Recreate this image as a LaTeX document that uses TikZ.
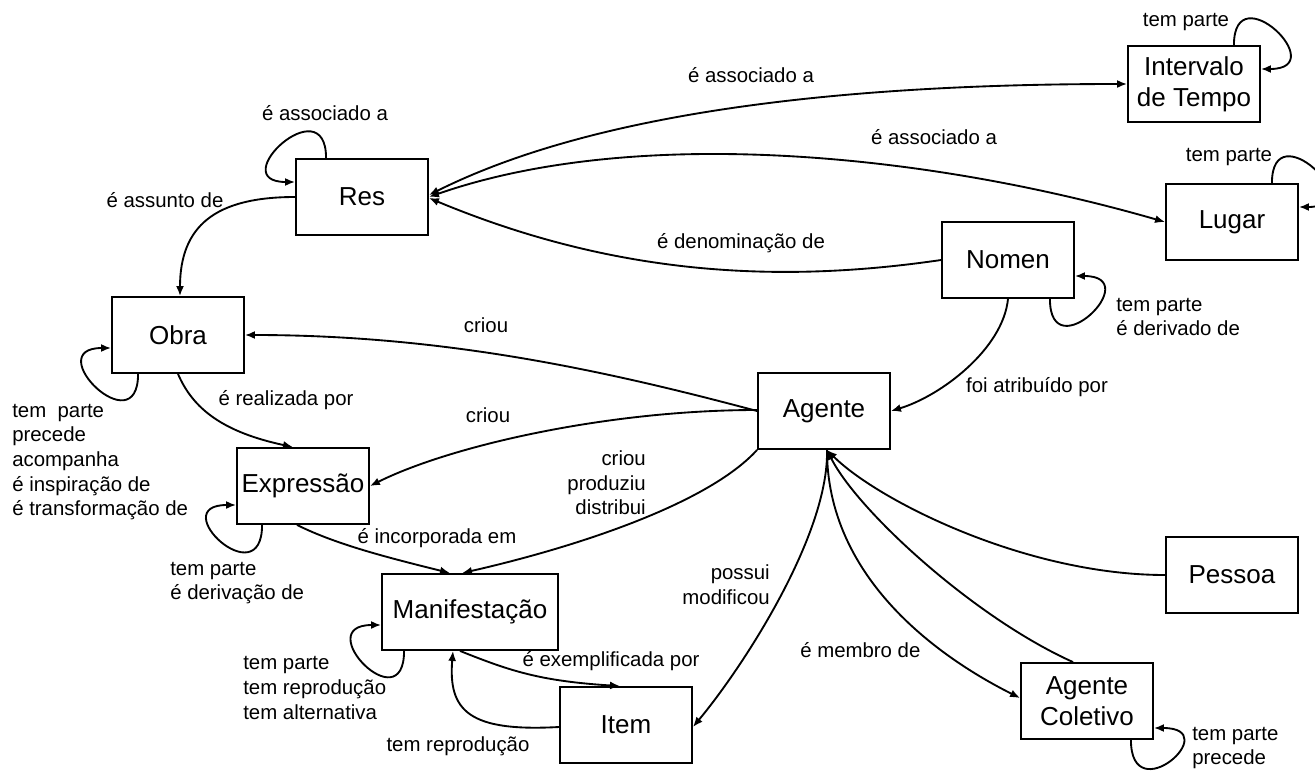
\documentclass[tikz,border=0pt]{standalone}
\usepackage{fontspec}
\setmainfont{Liberation Sans}
\usepackage{tikz}
\usetikzlibrary{arrows.meta,calc}

\begin{document}
\begin{tikzpicture}[x=0.75pt, y=-0.75pt,
    box/.style={draw, line width=1.4pt, minimum width=99pt, minimum height=57pt,
      inner sep=0pt, align=center, font=\fontsize{19.5}{23}\selectfont},
    lbl/.style={inner sep=0pt, font=\fontsize{15.3}{18.5}\selectfont},
    arr/.style={line width=1.4pt, -{Latex[length=7.5pt,width=6pt]}},
    arrb/.style={line width=1.4pt, {Latex[length=7.5pt,width=6pt]}-{Latex[length=7.5pt,width=6pt]}}]
      \useasboundingbox (0,0) rectangle (1315,771);
      % entities
      \node[box] (int) at (1194,84) {Intervalo\\de Tempo};
      \node[box] (lugar) at (1232,222) {Lugar};
      \node[box] (res) at (362,197) {Res};
      \node[box] (obra) at (178,335) {Obra};
      \node[box] (nomen) at (1008,260) {Nomen};
      \node[box] (agente) at (824,411) {Agente};
      \node[box] (expr) at (303,486) {Expressão};
      \node[box, minimum width=132pt] (manif) at (470,612) {Manifestação};
      \node[box] (item) at (626,725) {Item};
      \node[box] (pessoa) at (1232,575) {Pessoa};
      \node[box] (agcol) at (1087,701) {Agente\\Coletivo};
      % self loops
      \draw[arr] ($(res.north west)+(31,0)$) .. controls +(0,-72) and +(-72,0) .. ($(res.west)+(0,-15)$);
      \draw[arr] ($(obra.south west)+(27,0)$) .. controls +(0,72) and +(-72,0) .. ($(obra.west)+(0,13)$);
      \draw[arr] ($(expr.south west)+(26,0)$) .. controls +(0,72) and +(-72,0) .. ($(expr.west)+(0,19)$);
      \draw[arr] ($(manif.south west)+(23,0)$) .. controls +(0,72) and +(-72,0) .. ($(manif.west)+(0,13)$);
      \draw[arr] ($(nomen.south east)+(-25,0)$) .. controls +(0,72) and +(72,0) .. ($(nomen.east)+(0,16)$);
      \draw[arr] ($(agcol.south east)+(-23,0)$) .. controls +(0,72) and +(72,0) .. ($(agcol.east)+(0,27)$);
      \draw[arr] ($(int.north east)+(-27,0)$) .. controls +(0,-72) and +(72,0) .. ($(int.east)+(0,-15)$);
      \draw[arr] ($(lugar.north east)+(-27,0)$) .. controls +(0,-72) and +(72,0) .. ($(lugar.east)+(0,-15)$);
      % relations of Res
      \draw[arr] (res.west) .. controls +(-80,0) and +(0,-70) .. ($(obra.north)+(2,0)$);
      \draw[arrb] ($(res.east)+(0,-2)$) .. controls +(160,-80) and +(-300,0) .. (int.west);
      \draw[arrb] (res.east) .. controls +(200,-70) and +(-250,-72) .. (lugar.west);
      \draw[arr] (nomen.west) .. controls +(-170,25) and +(180,75) .. ($(res.east)+(0,1)$);
      % relations of Agente
      \draw[arr] (nomen.south) .. controls +(-5,50) and +(50,-15) .. (agente.east);
      \draw[arr] (agente.west) .. controls +(-150,-40) and +(200,0) .. (obra.east);
      \draw[arr] ($(agente.west)+(0,-1)$) .. controls +(-150,0) and +(80,-40) .. (expr.east);
      \draw[arr] (agente.south west) .. controls +(-50,55) and +(110,-25) .. ($(manif.north)+(-8,0)$);
      \draw[arr] ($(agente.south)+(3,0)$) .. controls +(2,85) and +(50,-60) .. ($(item.east)+(0,2)$);
      \draw[arr] (pessoa.west) .. controls +(-140,0) and +(50,50) .. ($(agente.south)+(3,0)$);
      \draw[arr] ($(agcol.north)+(-14,0)$) .. controls +(-100,-45) and +(30,60) .. ($(agente.south)+(3,0)$);
      \draw[arr] ($(agente.south)+(3,0)$) .. controls +(0,140) and +(-60,-30) .. ($(agcol.west)+(0,-3)$);
      % Obra to Item chain
      \draw[arr] (obra.south) .. controls +(15,35) and +(-70,-15) .. ($(expr.north)+(-10,0)$);
      \draw[arr] ($(expr.south)+(-6,0)$) .. controls +(40,20) and +(-60,-15) .. ($(manif.north)+(-20,0)$);
      \draw[arr] ($(manif.south)+(-10,0)$) .. controls +(50,20) and +(-80,-5) .. ($(item.north)+(-6,0)$);
      \draw[arr] ($(item.west)+(0,2)$) .. controls +(-90,5) and +(-5,60) .. ($(manif.south)+(-17,0)$);
      % labels
      \node[lbl] (l1) at (325,113) {é associado a};
      \node[lbl] (l2) at (165,200) {é assunto de};
      \node[lbl] (l3) at (751,75) {é associado a};
      \node[lbl] (l4) at (934,137) {é associado a};
      \node[lbl] (l5) at (741,243) {é denominação de};
      \node[lbl] (l6) at (1186,22) {tem parte};
      \node[lbl] (l7) at (1229,157) {tem parte};
      \node[lbl, anchor=west, align=left] (l8) at (1116,317) {tem parte\\é derivado de};
      \node[lbl] (l9) at (1037,387) {foi atribuído por};
      \node[lbl] (l10) at (486,325) {criou};
      \node[lbl] (l11) at (488,415) {criou};
      \node[lbl, anchor=east, align=right] (l12) at (646,483) {criou\\produziu\\distribui};
      \node[lbl] (l13) at (437,538) {é incorporada em};
      \node[lbl] (l14) at (286,400) {é realizada por};
      \node[lbl, anchor=west, align=left] (l15) at (12,462) {tem\ \ parte\\precede\\acompanha\\é inspiração de\\é transformação de};
      \node[lbl, anchor=west, align=left] (l16) at (170,583) {tem parte\\é derivação de};
      \node[lbl, anchor=west, align=left] (l17) at (243,688) {tem parte\\tem reprodução\\tem alternativa};
      \node[lbl] (l18) at (611,661) {é exemplificada por};
      \node[lbl] (l19) at (458,746) {tem reprodução};
      \node[lbl, anchor=east, align=right] (l20) at (770,585) {possui\\modificou};
      \node[lbl, anchor=west] (l21) at (800,650) {é membro de};
      \node[lbl, anchor=west, align=left] (l22) at (1192,748) {tem parte\\precede};
\end{tikzpicture}
\end{document}
